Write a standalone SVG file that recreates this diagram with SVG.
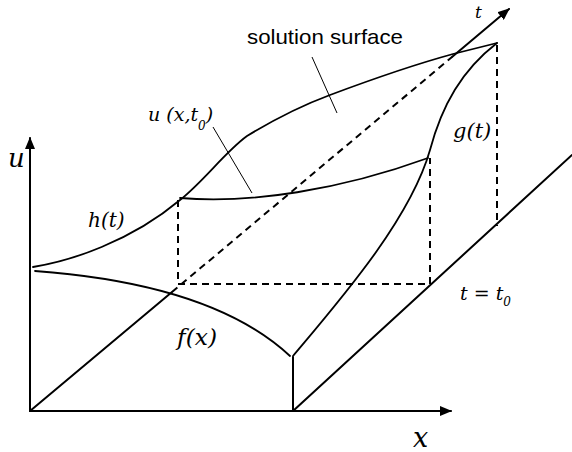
<svg xmlns="http://www.w3.org/2000/svg" width="572" height="452" viewBox="0 0 572 452">
<style>
.ln{fill:none;stroke:#000;stroke-width:2;stroke-linecap:round;stroke-linejoin:round}
.cv{fill:none;stroke:#000;stroke-width:1.8;stroke-linecap:round}
.ds{fill:none;stroke:#000;stroke-width:2;stroke-dasharray:7 5}
.th{fill:none;stroke:#000;stroke-width:1}
.m{font-family:'DejaVu Serif','Liberation Serif',serif;font-style:italic;fill:#000}
.s{font-family:'Liberation Sans',Arial,sans-serif;fill:#000}
</style>
<defs>
<marker id="ah" viewBox="0 0 12 10" refX="11" refY="5" markerWidth="12" markerHeight="10" markerUnits="userSpaceOnUse" orient="auto">
<path d="M0,0 L12,5 L0,10 Z" fill="#000"/>
</marker>
</defs>
<rect width="572" height="452" fill="#fff"/>
<g id="connectors">
<line class="ln" x1="30" y1="411" x2="30" y2="138" marker-end="url(#ah)"/>
<line class="ln" x1="30" y1="411" x2="451" y2="411" marker-end="url(#ah)"/>
<line class="ln" x1="30" y1="411" x2="172" y2="292"/>
<line class="ds" x1="172" y1="292" x2="452" y2="57"/>
<line class="ln" x1="452" y1="57" x2="509" y2="9" marker-end="url(#ah)"/>
<line class="ln" x1="293" y1="411" x2="572" y2="155"/>
<line class="ln" x1="293" y1="411" x2="293" y2="357"/>
</g>
<g id="surface">
<path class="cv" d="M33,267 C70,261 130,242 180,200 C205,180 225,152 247,136 C270,122 295,108 330,95 C370,80 420,63 453,54 L497,43"/>
<path class="cv" d="M35,271 C130,278 230,300 290,356"/>
<path class="cv" d="M293,356 C340,300 410,220 430,150 C442,105 462,70 497,43"/>
<path class="cv" d="M180,198 C250,204 340,190 428,158"/>
</g>
<g id="dashes">
<path class="ds" d="M178,200 V284 H430 V158"/>
<line class="ds" x1="497" y1="45" x2="497" y2="226"/>
</g>
<g id="leaders">
<line class="th" x1="312" y1="57" x2="337" y2="113"/>
<line class="th" x1="213" y1="127" x2="252" y2="193"/>
</g>
<g id="labels">
<text class="m" x="8" y="167" font-size="26">u</text>
<text class="m" x="88" y="227" font-size="20">h(t)</text>
<text class="m" x="148" y="121" font-size="19">u (x,t<tspan dy="9" font-size="12">0</tspan><tspan dy="-9">)</tspan></text>
<text class="s" x="247" y="44" font-size="21" textLength="156" lengthAdjust="spacingAndGlyphs">solution surface</text>
<text class="m" x="453" y="138" font-size="21">g(t)</text>
<text class="m" x="475" y="18" font-size="17">t</text>
<text class="m" x="177" y="345" font-size="22" textLength="40" lengthAdjust="spacingAndGlyphs">f(x)</text>
<text class="m" x="460" y="300" font-size="19">t = t<tspan dy="6" font-size="12">0</tspan></text>
<text class="m" x="413" y="447" font-size="27">x</text>
</g>
</svg>
